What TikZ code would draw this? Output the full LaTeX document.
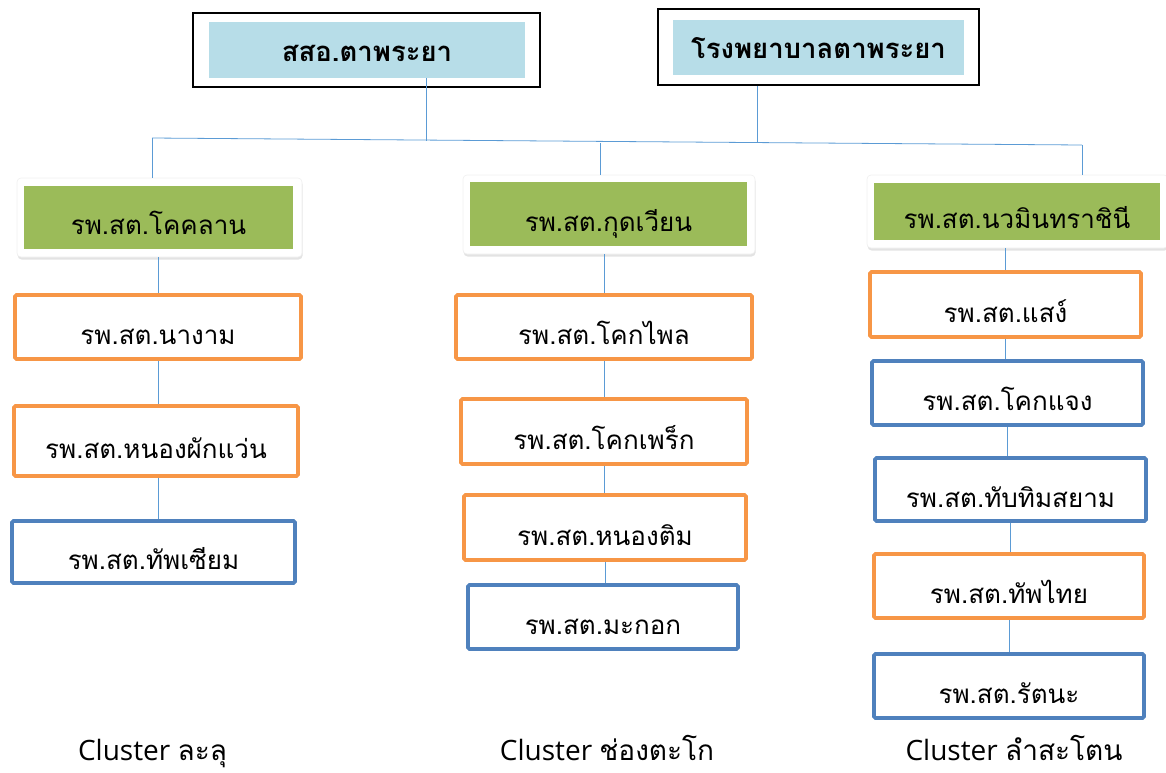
\documentclass[tikz,border=0pt]{standalone}
\usepackage{fontspec}
\newfontfamily\thai[Script=Thai]{Loma}
\newfontfamily\latn{Open Sans}
\usetikzlibrary{shadows}
\definecolor{lblue}{HTML}{B7DDE8}
\definecolor{ggreen}{HTML}{9BBB59}
\definecolor{oorange}{HTML}{F79646}
\definecolor{sblue}{HTML}{4F81BD}
\definecolor{linecol}{HTML}{5B9BD5}
\tikzset{
  outerbox/.style={draw=black, line width=1.8pt, fill=white, inner sep=0pt},
  titlefill/.style={fill=lblue, inner sep=0pt, text height=22pt, text depth=0pt, font=\thai\bfseries\fontsize{27.5}{30}\selectfont},
  gframe/.style={fill=white, draw=black!6, line width=0.6pt, rounded corners=4pt, inner sep=0pt,
    drop shadow={opacity=0.22, shadow xshift=0.6pt, shadow yshift=-2.5pt}},
  gfill/.style={fill=ggreen, inner sep=0pt, text height=34pt, text depth=0pt, font=\thai\fontsize{26}{30}\selectfont},
  colbox/.style={line width=3.6pt, rounded corners=1.5pt, fill=white, inner sep=0pt, text height=35pt, text depth=0pt, font=\thai\fontsize{26}{30}\selectfont},
  obox/.style={colbox, draw=oorange},
  bbox/.style={colbox, draw=sblue},
  conn/.style={draw=linecol, line width=0.8pt},
  clabel/.style={inner sep=0pt, anchor=base}
}
\newcommand\clus[1]{{\latn\fontsize{28}{32}\selectfont Cluster }{\thai\fontsize{28}{32}\selectfont #1}}
\begin{document}
\begin{tikzpicture}[x=1pt,y=-1pt]
\useasboundingbox (0,0) rectangle (1166,772);
% top boxes
\node[outerbox, minimum width=347pt, minimum height=74pt] (T1out) at (366.5,50) {};
\node[titlefill, minimum width=316pt, minimum height=56pt] (T1) at (367,50) {สสอ.ตาพระยา};
\node[outerbox, minimum width=321pt, minimum height=76pt] (T2out) at (818.5,47) {};
\node[titlefill, minimum width=291pt, minimum height=55pt] (T2) at (818.5,47.5) {โรงพยาบาลตาพระยา};
% junction coordinates
\coordinate (j1) at (426,141);
\coordinate (j2) at (757,143);
\coordinate (hl) at (152,138);
\coordinate (hm) at (600,143);
\coordinate (hr) at (1082,145);
% green heads
\node[gframe, minimum width=285pt, minimum height=79pt] (gAf) at (159.5,217.5) {};
\node[gfill, minimum width=269pt, minimum height=63pt] (gA) at (158.5,217.5) {รพ.สต.โคคลาน};
\node[gframe, minimum width=292pt, minimum height=79pt] (gBf) at (609,214.5) {};
\node[gfill, minimum width=277pt, minimum height=64pt] (gB) at (608.5,214) {รพ.สต.กุดเวียน};
\node[gframe, minimum width=301pt, minimum height=73pt] (gCf) at (1017.5,211.5) {};
\node[gfill, minimum width=286pt, minimum height=57pt] (gC) at (1017,211.5) {รพ.สต.นวมินทราชินี};
% column A
\node[obox, minimum width=286pt, minimum height=64pt] (A1) at (158,327) {รพ.สต.นางาม};
\node[obox, minimum width=284pt, minimum height=70pt] (A2) at (156,441) {รพ.สต.หนองผักแว่น};
\node[bbox, minimum width=283pt, minimum height=62pt] (A3) at (153.5,552) {รพ.สต.ทัพเซียม};
% column B
\node[obox, minimum width=296pt, minimum height=64pt] (B1) at (604,327) {รพ.สต.โคกไพล};
\node[obox, minimum width=286pt, minimum height=65pt] (B2) at (604,431.5) {รพ.สต.โคกเพร็ก};
\node[obox, minimum width=282pt, minimum height=65pt] (B3) at (605,527.5) {รพ.สต.หนองติม};
\node[bbox, minimum width=270pt, minimum height=64pt] (B4) at (603,617) {รพ.สต.มะกอก};
% column C
\node[obox, minimum width=271pt, minimum height=65pt] (C1) at (1005.5,304.5) {รพ.สต.แสง์};
\node[bbox, minimum width=271pt, minimum height=64pt] (C2) at (1007.5,393) {รพ.สต.โคกแจง};
\node[bbox, minimum width=271pt, minimum height=63pt] (C3) at (1010.5,489.5) {รพ.สต.ทับทิมสยาม};
\node[obox, minimum width=270pt, minimum height=64pt] (C4) at (1009,586) {รพ.สต.ทัพไทย};
\node[bbox, minimum width=270pt, minimum height=64pt] (C5) at (1009,686) {รพ.สต.รัตนะ};
% cluster labels
\node[clabel] (LA) at (152.5,760) {\clus{ละลุ}};
\node[clabel] (LB) at (607,760) {\clus{ช่องตะโก}};
\node[clabel] (LC) at (1014,760) {\clus{ลำสะโตน}};
% connectors
\draw[conn] (j1 |- T1.south) -- (j1);
\draw[conn] (j2 |- T2out.south) -- (j2);
\draw[conn] (hl) -- (hr);
\draw[conn] (hl) -- (hl |- gAf.north);
\draw[conn] (hm) -- (hm |- gBf.north);
\draw[conn] (hr) -- (hr |- gCf.north);
\draw[conn] (A1.north |- gAf.south) -- (A1.north);
\draw[conn] (A1.south) -- (A1.south |- A2.north);
\draw[conn] (A1.south |- A2.south) -- (A1.south |- A3.north);
\draw[conn] (B1.north |- gBf.south) -- (B1.north);
\draw[conn] (B1.south) -- (B1.south |- B2.north);
\draw[conn] (B2.south) -- (B2.south |- B3.north);
\draw[conn] (B3.south) -- (B3.south |- B4.north);
\draw[conn] (C1.north |- gCf.south) -- (C1.north);
\draw[conn] (C1.south) -- (C1.south |- C2.north);
\draw[conn] (C2.south) -- (C2.south |- C3.north);
\draw[conn] (C3.south) -- (C3.south |- C4.north);
\draw[conn] (C4.south) -- (C4.south |- C5.north);
\end{tikzpicture}
\end{document}
